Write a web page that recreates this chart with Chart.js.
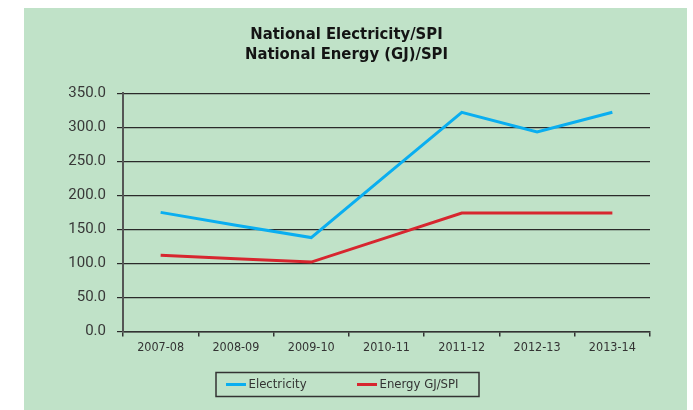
<!DOCTYPE html>
<html>
<head>
<meta charset="utf-8">
<script src="https://cdn.jsdelivr.net/npm/chart.js@4/dist/chart.umd.min.js"></script>
<style>
html,body{margin:0;padding:0;background:#fff;}
#wrap{position:relative;width:693px;height:410px;}
</style>
</head>
<body>
<div id="wrap"><canvas id="c" width="693" height="410"></canvas></div>
<script>
const categories = ['2007-08','2008-09','2009-10','2010-11','2011-12','2012-13','2013-14'];
const electricity = [175, 156, 138, 230, 322, 293, 322];
const energy = [112, 107, 102, 138, 174, 174, 174];
const yTicks = [0, 50, 100, 150, 200, 250, 300, 350];
const seriesNames = ['Electricity', 'Energy GJ/SPI'];
const titleLines = ['National Electricity/SPI', 'National Energy (GJ)/SPI'];

const DIN = '"DejaVu Sans Condensed", "DejaVu Sans", sans-serif';

const bgPlugin = {
  id: 'bg',
  beforeDraw(chart) {
    const ctx = chart.ctx;
    ctx.save();
    ctx.fillStyle = '#ffffff';
    ctx.fillRect(0, 0, chart.width, chart.height);
    ctx.fillStyle = 'rgb(192,226,200)';
    ctx.fillRect(24, 8, 663, 402);
    ctx.restore();
  }
};

const legendPlugin = {
  id: 'boxLegend',
  afterDraw(chart) {
    const ctx = chart.ctx;
    ctx.save();
    ctx.strokeStyle = '#333';
    ctx.lineWidth = 1.5;
    ctx.strokeRect(216, 372.5, 263, 24);
    const starts = [226, 357];
    chart.data.datasets.forEach((ds, i) => {
      const x = starts[i];
      const y = 384.5;
      ctx.strokeStyle = ds.borderColor;
      ctx.lineWidth = 3;
      ctx.beginPath();
      ctx.moveTo(x, y);
      ctx.lineTo(x + 20, y);
      ctx.stroke();
      ctx.fillStyle = '#333';
      ctx.font = '13px ' + DIN;
      ctx.textBaseline = 'middle';
      ctx.textAlign = 'left';
      ctx.fillText(ds.label, x + 22.5, y + 0.5);
    });
    ctx.restore();
  }
};

new Chart(document.getElementById('c'), {
  type: 'line',
  data: {
    labels: categories,
    datasets: [
      { label: seriesNames[0], data: electricity, borderColor: '#0aaef0', borderWidth: 3, pointRadius: 0, tension: 0, fill: false },
      { label: seriesNames[1], data: energy, borderColor: '#d7262f', borderWidth: 3, pointRadius: 0, tension: 0, fill: false }
    ]
  },
  options: {
    responsive: false,
    animation: false,
    layout: { padding: { left: 0, right: 0, top: 0, bottom: 48.5 } },
    plugins: {
      legend: { display: false },
      tooltip: { enabled: false },
      title: {
        display: true,
        text: titleLines,
        color: '#141414',
        font: { family: DIN, size: 16.5, weight: 'bold', lineHeight: 1.22 },
        padding: { top: 24.5, bottom: 28.5 }
      }
    },
    scales: {
      x: {
        offset: true,
        grid: { display: true, offset: true, drawOnChartArea: false, drawTicks: true, tickLength: 5, color: '#333', lineWidth: 1.5 },
        border: { display: true, color: '#333', width: 1.5 },
        ticks: { color: '#333', font: { family: DIN, size: 12.5 }, padding: 4, maxRotation: 0, autoSkip: false },
        afterFit(scale) { scale.height = 30; }
      },
      y: {
        min: 0, max: 350,
        afterBuildTicks(scale) { scale.ticks = yTicks.map(v => ({ value: v })); },
        grid: { color: '#2a2a2a', lineWidth: 1.2, tickLength: 6 },
        border: { display: true, color: '#555', width: 2 },
        ticks: { color: '#383838', font: { family: 'Roboto', size: 15 }, padding: 11, callback: v => Number(v).toFixed(1) },
        afterFit(scale) { scale.width = 123; }
      },
      yR: {
        type: 'linear',
        position: 'right',
        min: 0, max: 1,
        grid: { display: false, drawTicks: false },
        border: { display: false },
        ticks: { display: false },
        afterFit(scale) { scale.width = 43; }
      }
    }
  },
  plugins: [bgPlugin, legendPlugin]
});
</script>
</body>
</html>
